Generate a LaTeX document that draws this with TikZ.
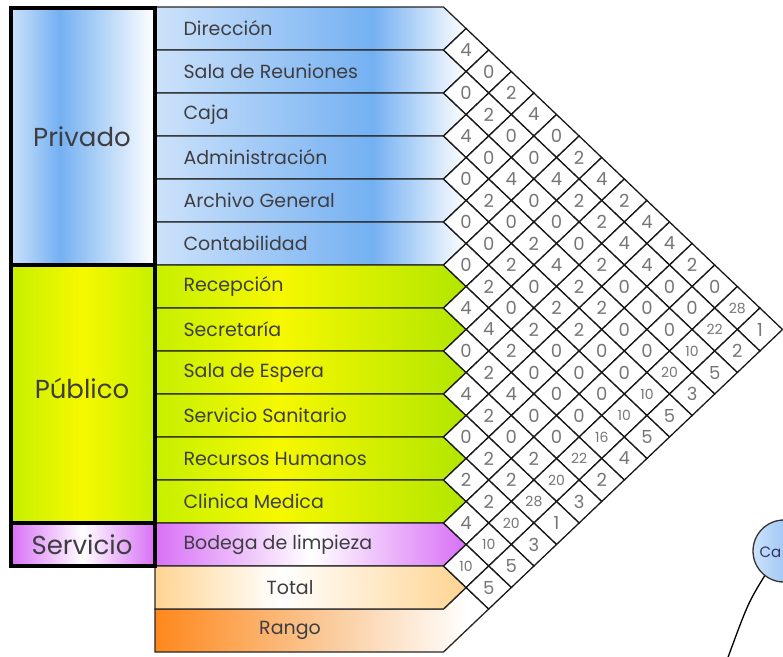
\documentclass[tikz,border=0pt]{standalone}
\usepackage{fontspec}
\setmainfont{Poppins}
\usetikzlibrary{calc}

\definecolor{blueA}{RGB}{116,176,242}
\definecolor{blueL}{RGB}{205,226,250}
\definecolor{limeA}{RGB}{198,240,0}
\definecolor{limeB}{RGB}{246,248,0}
\definecolor{limeC}{RGB}{178,230,0}
\definecolor{lilac}{RGB}{216,112,246}
\definecolor{peach}{RGB}{255,212,146}
\definecolor{orangeA}{RGB}{255,136,28}
\definecolor{orangeL}{RGB}{250,200,150}
\definecolor{labelgray}{RGB}{62,62,66}
\definecolor{numgray}{RGB}{118,118,118}

\pgfdeclarehorizontalshading{blueRow}{100bp}{color(0bp)=(blueL); color(25bp)=(blueL); color(60bp)=(blueA); color(75bp)=(white); color(100bp)=(white)}
\pgfdeclarehorizontalshading{greenRow}{100bp}{color(0bp)=(limeA); color(25bp)=(limeA); color(45bp)=(limeB); color(75bp)=(limeC); color(100bp)=(limeC)}
\pgfdeclarehorizontalshading{purpleRow}{100bp}{color(0bp)=(lilac); color(25bp)=(lilac); color(50bp)=(white); color(75bp)=(lilac); color(100bp)=(lilac)}
\pgfdeclarehorizontalshading{totalRow}{100bp}{color(0bp)=(peach); color(25bp)=(peach); color(45bp)=(white); color(75bp)=(peach); color(100bp)=(peach)}
\pgfdeclarehorizontalshading{rangoRow}{100bp}{color(0bp)=(orangeA); color(25bp)=(orangeA); color(50bp)=(orangeL); color(72bp)=(white); color(100bp)=(white)}
\pgfdeclarehorizontalshading{blueGroup}{100bp}{color(0bp)=(blueL); color(25bp)=(blueL); color(42bp)=(blueA); color(75bp)=(white); color(100bp)=(white)}
\pgfdeclarehorizontalshading{greenGroup}{100bp}{color(0bp)=(limeA); color(25bp)=(limeA); color(50bp)=(limeB); color(75bp)=(limeA); color(100bp)=(limeA)}
\pgfdeclarehorizontalshading{purpleGroup}{100bp}{color(0bp)=(lilac); color(25bp)=(lilac); color(50bp)=(white); color(75bp)=(lilac); color(100bp)=(lilac)}

\begin{document}
\begin{tikzpicture}[x=1pt, y=-1pt,
  rowbox/.style={draw=black!85, line width=1.3pt},
  groupbox/.style={draw=black, line width=4pt},
  cellbox/.style={draw=black!90, line width=1.3pt, fill=white},
  rowlabel/.style={anchor=west, text=labelgray, font=\fontsize{19}{19}\selectfont},
  grouplabel/.style={text=labelgray, font=\fontsize{26}{26}\selectfont},
  num/.style={text=numgray, font=\fontsize{18}{18}\selectfont, inner sep=0pt},
  bubble/.style={circle, draw=black!80, line width=1.3pt, minimum size=62pt, left color=blueL, right color=blueA}
]
\useasboundingbox (0,0) rectangle (783,656);

\shadedraw[rowbox, shading=rangoRow] (155,609) -- (443.5,609) -- (466.1,587.5) -- (488.7,609) -- (443.5,652) -- (155,652) -- cycle;
\node[rowlabel, anchor=center] (rango) at (290,630.5) {Rango};

\foreach \n/\name/\sh in {0/Dirección/blueRow, 1/Sala de Reuniones/blueRow, 2/Caja/blueRow,
  3/Administración/blueRow, 4/Archivo General/blueRow, 5/Contabilidad/blueRow,
  6/Recepción/greenRow, 7/Secretaría/greenRow, 8/Sala de Espera/greenRow,
  9/Servicio Sanitario/greenRow, 10/Recursos Humanos/greenRow, 11/Clinica Medica/greenRow,
  12/Bodega de limpieza/purpleRow, 13/{}/totalRow}{
  \shadedraw[rowbox, shading=\sh] (155,7+43*\n) -- ++(288.5,0) -- ++(22.6,21.5) -- ++(-22.6,21.5) -- ++(-288.5,0) -- cycle;
  \node[rowlabel] (row\n) at (180,28.5+43*\n) {\name};
}
\node[rowlabel, anchor=center] (total) at (290,587.5) {Total};

\foreach \i/\vals in {0/{4,0,2,4,0,2,4,2,4,4,2,0,28,1}, 1/{0,2,0,0,4,2,2,4,4,0,0,22,2},
  2/{4,0,4,0,0,0,2,0,0,0,10,5}, 3/{0,2,0,2,4,2,2,0,0,20,3}, 4/{0,0,2,0,2,2,0,0,10,5},
  5/{0,2,0,2,0,0,0,10,5}, 6/{4,4,2,0,0,0,16,4}, 7/{0,2,4,0,0,22,2}, 8/{4,2,0,2,20,3},
  9/{0,2,2,28,1}, 10/{2,2,20,3}, 11/{4,10,5}, 12/{10,5}}{
  \foreach \v [count=\d] in \vals {
    \pgfmathsetmacro\cx{443.5+22.6*\d}
    \pgfmathsetmacro\cy{28.5+21.5*(2*\i+\d)}
    \draw[cellbox] (\cx-22.6,\cy) -- (\cx,\cy-21.5) -- (\cx+22.6,\cy) -- (\cx,\cy+21.5) -- cycle;
    \node[num] (c\i-\d) at (\cx,\cy) {\ifnum\v>9 \fontsize{14}{14}\selectfont\fi\v};
  }
}

\shadedraw[groupbox, shading=blueGroup] (10.5,7.5) rectangle (154.5,265);
\shadedraw[groupbox, shading=greenGroup] (10.5,265) rectangle (154.5,523);
\shadedraw[groupbox, shading=purpleGroup] (10.5,523) rectangle (154.5,566);
\node[grouplabel] (privado) at (82,137) {Privado};
\node[grouplabel] (publico) at (82,388) {Público};
\node[grouplabel] (servicio) at (82,545) {Servicio};

\node[bubble] (caja) at (784,551) {};
\node[anchor=west, text=labelgray!80!blue, font=\fontsize{15}{15}\selectfont] (cajatext) at (756,552) {Ca};
\coordinate (tail) at (727,660);
\draw[line width=1.3pt] (caja.232) .. controls (748,603) .. (tail);
\end{tikzpicture}
\end{document}
